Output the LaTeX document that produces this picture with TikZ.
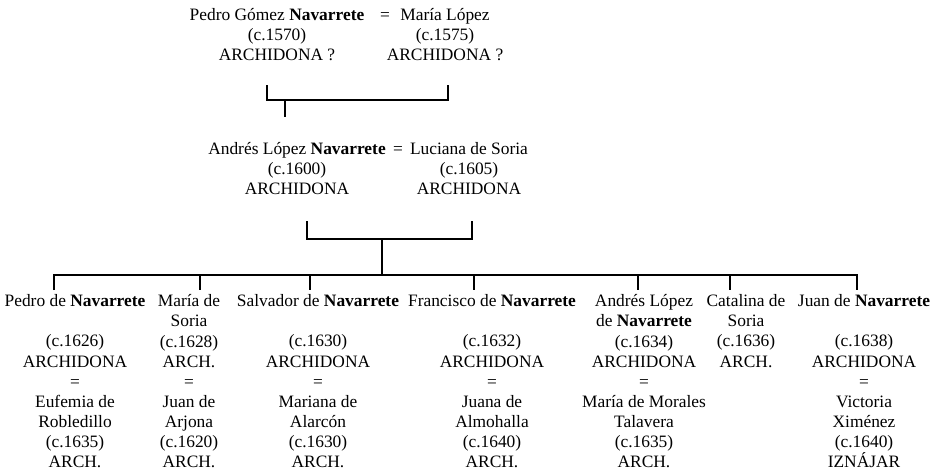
\documentclass[tikz,border=0pt]{standalone}
\usepackage{fontspec}
\setmainfont{Liberation Serif}
\usetikzlibrary{positioning}

\begin{document}
\begin{tikzpicture}[x=1pt, y=-1pt,
        person/.style={align=center, inner sep=0pt, anchor=north, font=\fontsize{17.4}{20.1}\selectfont},
        child/.style={person, inner sep=4.5pt},
        marriage/.style={inner sep=0pt, font=\fontsize{17.4}{20.1}\selectfont},
        line/.style={line width=1.7pt}
    ]
    \useasboundingbox (0,0) rectangle (934,474);

    % First generation
    \node[person] (pedroG) at (277,8) {Pedro Gómez \textbf{Navarrete}\\(c.1570)\\ARCHIDONA ?};
    \node[marriage] (eq1) at (385,17) {=};
    \node[person] (mariaL) at (445,8) {María López\\(c.1575)\\ARCHIDONA ?};

    % Second generation
    \node[person] (andres) at (297,142) {Andrés López \textbf{Navarrete}\\(c.1600)\\ARCHIDONA};
    \node[marriage] (eq2) at (398,151) {=};
    \node[person] (luciana) at (469,142) {Luciana de Soria\\(c.1605)\\ARCHIDONA};

    % Children
    \node[child] (pedro) at (75,290) {Pedro de \textbf{Navarrete}\\\mbox{}\\(c.1626)\\ARCHIDONA\\=\\Eufemia de\\Robledillo\\(c.1635)\\ARCH.};
    \node[child] (maria) at (189,290) {María de\\Soria\\(c.1628)\\ARCH.\\=\\Juan de\\Arjona\\(c.1620)\\ARCH.};
    \node[child] (salvador) at (318,290) {Salvador de \textbf{Navarrete}\\\mbox{}\\(c.1630)\\ARCHIDONA\\=\\Mariana de\\Alarcón\\(c.1630)\\ARCH.};
    \node[child] (francisco) at (492,290) {Francisco de \textbf{Navarrete}\\\mbox{}\\(c.1632)\\ARCHIDONA\\=\\Juana de\\Almohalla\\(c.1640)\\ARCH.};
    \node[child] (andresL) at (644,290) {Andrés López\\de \textbf{Navarrete}\\(c.1634)\\ARCHIDONA\\=\\María de Morales\\Talavera\\(c.1635)\\ARCH.};
    \node[child] (catalina) at (746,290) {Catalina de\\Soria\\(c.1636)\\ARCH.};
    \node[child] (juan) at (864,290) {Juan de \textbf{Navarrete}\\\mbox{}\\(c.1638)\\ARCHIDONA\\=\\Victoria\\Ximénez\\(c.1640)\\IZNÁJAR};

    % Brackets
    \coordinate (top-l) at (267,85);
    \coordinate (top-r) at (448,85);
    \coordinate (top-m) at (285,100);
    \coordinate (mid-l) at (307,221);
    \coordinate (mid-r) at (472,221);
    \coordinate (mid-m) at (382,239);
    \coordinate (t1) at (54,275);
    \coordinate (t2) at (200,275);
    \coordinate (t3) at (310,275);
    \coordinate (t4) at (474,275);
    \coordinate (t5) at (638,275);
    \coordinate (t6) at (730,275);
    \coordinate (t7) at (857,275);

    \draw[line] (top-l) -- ++(0,15) -| (top-r);
    \draw[line] (top-m) -- ++(0,17);
    \draw[line] (mid-l) -- ++(0,18) -| (mid-r);
    \draw[line] (mid-m) -- (mid-m |- t1);
    \draw[line] (t1 |- pedro.north) -- (t1) -- (t7) -- (t7 |- juan.north);
    \draw[line] (t2) -- (t2 |- maria.north);
    \draw[line] (t3) -- (t3 |- salvador.north);
    \draw[line] (t4) -- (t4 |- francisco.north);
    \draw[line] (t5) -- (t5 |- andresL.north);
    \draw[line] (t6) -- (t6 |- catalina.north);

\end{tikzpicture}
\end{document}
